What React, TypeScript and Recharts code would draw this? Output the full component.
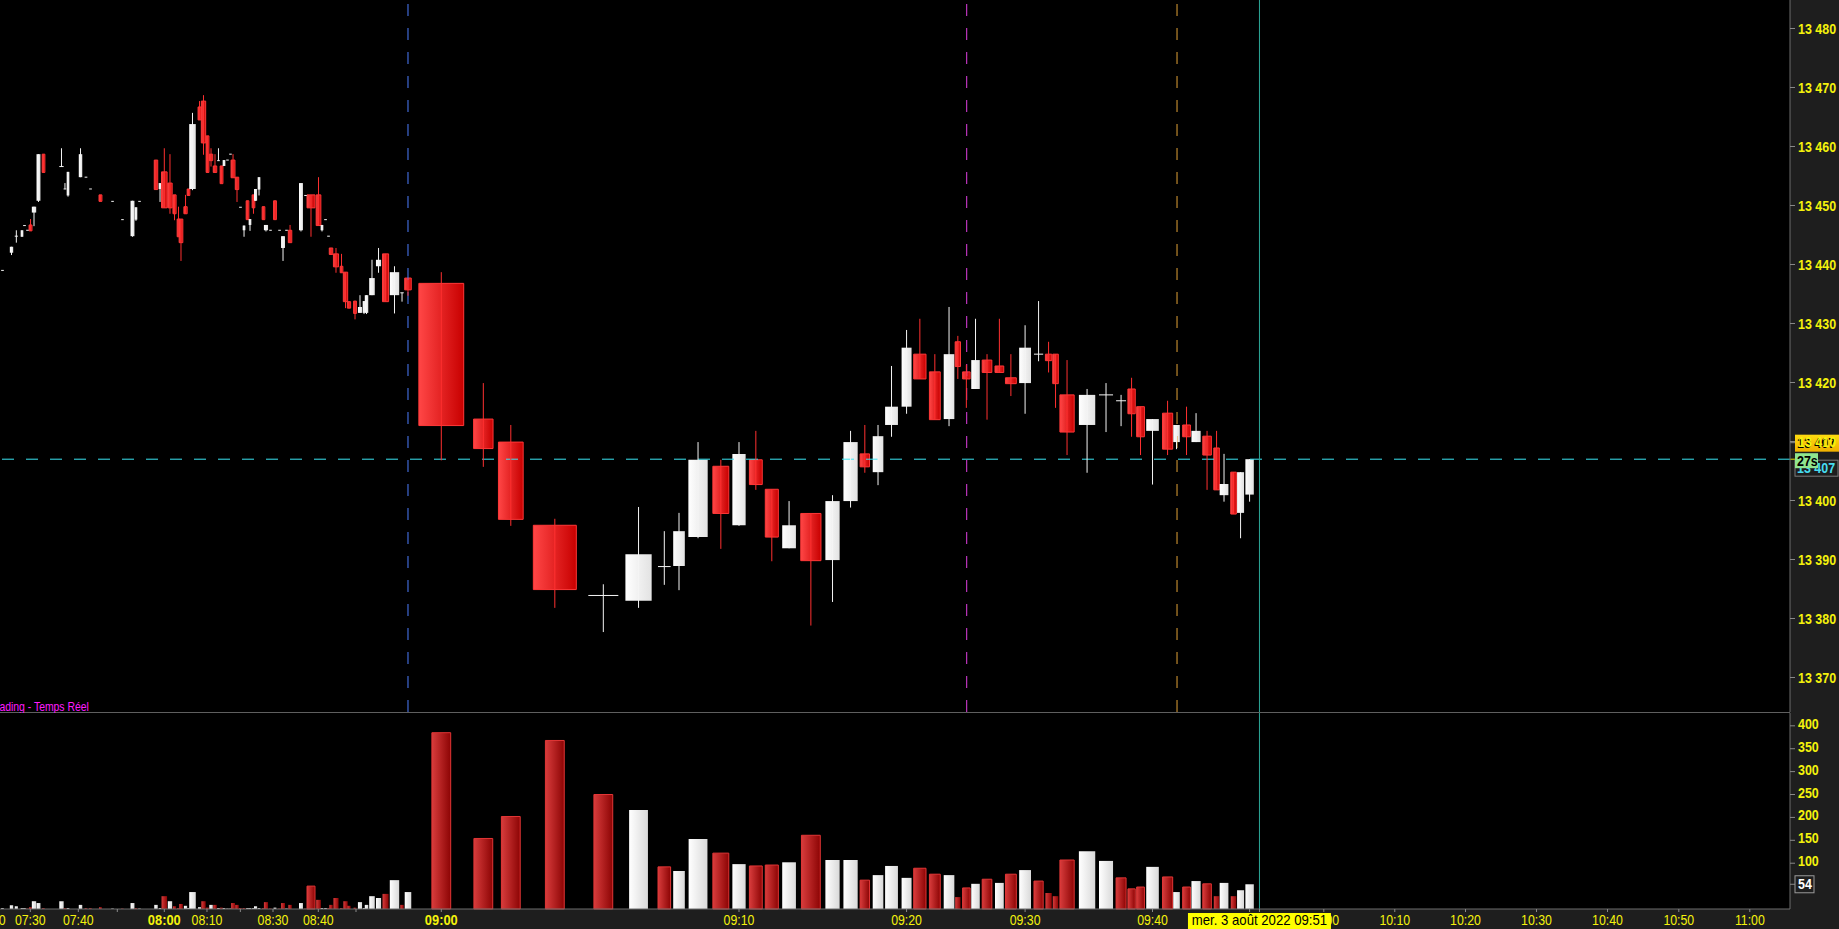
import React from 'react';
import {
  ComposedChart,
  XAxis,
  YAxis,
  CartesianGrid,
  ReferenceLine,
  ReferenceArea,
} from 'recharts';

// position of each candle on the volume-weighted time axis (1 unit = 1 minute in the future zone)
const POS = [
  0.35, 1.62, 2.3, 3.1, 3.45, 3.87, 4.3, 4.79, 5.42, 6.13,
  8.66, 9.15, 9.58, 11.34, 12.11, 12.75, 14.15, 15.85, 17.25, 18.66,
  19.15, 19.65, 21.97, 22.54, 23.14, 23.94, 24.58, 25.14, 25.49, 26.13,
  26.55, 27.11, 28.1, 28.66, 29.23, 29.72, 30.28, 30.77, 31.2, 31.55,
  32.04, 32.46, 32.82, 33.38, 33.87, 34.37, 34.86, 35.21, 35.7, 35.99,
  36.48, 37.11, 37.46, 38.1, 38.73, 39.37, 39.86, 40.35, 40.85, 42.39,
  43.03, 43.8, 44.86, 45.35, 45.85, 46.27, 46.62, 47.32, 48.1, 48.66,
  49.15, 50.0, 50.7, 51.27, 51.62, 52.39, 53.31, 54.3, 55.56, 56.62,
  57.46,
  62.15, 68.07, 71.94, 78.14, 84.97, 89.93, 93.56, 95.63, 98.31, 101.52,
  104.08, 106.45, 108.7, 111.13, 114.2, 117.25, 119.79, 121.8, 123.66, 125.56,
  127.68, 129.55, 131.66, 133.66, 134.9, 136.1, 137.39, 139.01, 140.75, 142.37,
  144.37, 146.27, 147.68, 148.66, 150.28, 153.1, 155.77, 157.89, 159.37, 160.63,
  162.32, 164.44, 165.7, 167.11, 168.45, 170.0, 171.34, 172.39, 173.73, 174.72,
  175.99,
];

const OPEN = [
  13439, 13442, 13444.8, 13444.7, 13446.6, 13445.8, 13446.7, 13448.8, 13450.8, 13458.7,
  13456.6, 13452.8, 13451.7, 13454.8, 13454.8, 13452.8, 13451.8, 13450.7, 13447.6, 13444.8,
  13447.6, 13450.7, 13457.7, 13452.8, 13455.7, 13453.8, 13451.8, 13447.7, 13447.7, 13449.8,
  13452.8, 13452.8, 13466.7, 13467.7, 13461.8, 13458.7, 13456.7, 13457.6, 13456.7, 13456.7,
  13457.7, 13458.7, 13457.7, 13454.8, 13449.7, 13445.8, 13450.8, 13446.7, 13451.8, 13450.8,
  13452.7, 13449.8, 13445.8, 13445.8, 13450.8, 13445.8, 13442.8, 13445.8, 13445.8, 13445.8,
  13451.7, 13451.8, 13451.8, 13445.8, 13447.6, 13444.8, 13442.8, 13441.8, 13439.7, 13438.7,
  13433.7, 13433.8, 13431.8, 13431.8, 13431.8, 13434.8, 13439.7, 13441.8, 13434.8, 13435.2,
  13437.7,
  13436.8, 13413.8, 13409.9, 13395.8, 13383.9, 13383.0, 13388.8, 13388.9, 13393.8, 13405.8,
  13395.8, 13406.9, 13401.9, 13391.9, 13397.8, 13389.9, 13399.9, 13407.9, 13404.8, 13412.8,
  13415.9, 13424.8, 13421.8, 13413.8, 13426.9, 13421.8, 13418.9, 13423.8, 13422.8, 13420.8,
  13419.9, 13424.8, 13424.8, 13424.8, 13417.9, 13412.8, 13417.9, 13416.9, 13418.9, 13415.9,
  13411.8, 13414.8, 13409.9, 13412.8, 13409.9, 13410.9, 13408.9, 13400.9, 13404.8, 13397.9,
  13401.0,
];

const HIGH = [
  13439, 13443, 13445.8, 13445.8, 13446.6, 13445.8, 13447.7, 13449.8, 13458.7, 13458.7,
  13459.7, 13453.8, 13455.7, 13459.7, 13454.8, 13452.8, 13451.8, 13450.7, 13447.6, 13450.8,
  13449.7, 13450.7, 13457.7, 13453.8, 13459.7, 13458.7, 13451.8, 13449.8, 13447.7, 13451.8,
  13452.8, 13465.7, 13467.7, 13468.7, 13461.8, 13459.7, 13458.7, 13459.7, 13456.7, 13457.7,
  13457.7, 13458.7, 13458.7, 13454.8, 13449.7, 13446.6, 13450.8, 13447.7, 13451.8, 13452.8,
  13454.8, 13449.8, 13446.7, 13445.8, 13450.8, 13445.8, 13444.8, 13445.8, 13446.7, 13453.8,
  13451.7, 13451.8, 13454.8, 13446.7, 13447.6, 13444.8, 13442.8, 13442.8, 13441.8, 13438.7,
  13433.7, 13433.8, 13434.8, 13433.8, 13434.8, 13440.8, 13442.8, 13441.8, 13439.7, 13435.2,
  13437.7,
  13438.7, 13419.9, 13412.8, 13396.9, 13385.8, 13398.9, 13394.8, 13397.9, 13409.9, 13406.9,
  13409.9, 13411.8, 13401.9, 13399.9, 13397.8, 13400.9, 13411.8, 13412.8, 13412.8, 13422.8,
  13428.9, 13430.8, 13424.8, 13432.8, 13427.9, 13423.0, 13430.8, 13424.8, 13430.8, 13424.8,
  13429.7, 13433.8, 13426.9, 13424.8, 13423.8, 13418.9, 13419.9, 13417.9, 13420.8, 13415.9,
  13413.8, 13416.9, 13412.8, 13415.9, 13414.8, 13411.8, 13411.8, 13407.9, 13404.8, 13404.8,
  13407.0,
];

const LOW = [
  13439, 13441.6, 13443.7, 13444.7, 13446.6, 13445.8, 13445.7, 13446.5, 13450.6, 13455.6,
  13456.6, 13452.8, 13451.5, 13454.8, 13454.8, 13452.8, 13450.7, 13450.7, 13447.6, 13444.7,
  13447.4, 13450.7, 13452.7, 13450.6, 13449.6, 13448.6, 13447.5, 13444.7, 13440.6, 13448.6,
  13451.7, 13452.6, 13464.5, 13458.6, 13455.6, 13456.6, 13455.6, 13457.6, 13453.7, 13456.7,
  13457.7, 13458.7, 13454.7, 13450.6, 13449.7, 13444.7, 13447.6, 13445.7, 13448.6, 13450.8,
  13451.7, 13447.6, 13445.6, 13445.8, 13447.6, 13445.8, 13440.6, 13445.8, 13443.7, 13445.6,
  13451.7, 13444.7, 13446.6, 13445.6, 13447.6, 13444.8, 13441.7, 13438.6, 13438.6, 13432.6,
  13432.6, 13430.7, 13431.8, 13431.6, 13431.6, 13434.8, 13438.6, 13433.7, 13431.7, 13433.7,
  13434.7,
  13406.8, 13405.7, 13395.7, 13381.8, 13377.7, 13381.8, 13385.7, 13384.8, 13393.6, 13391.8,
  13395.7, 13401.8, 13389.7, 13391.9, 13378.8, 13382.8, 13398.8, 13404.7, 13402.6, 13410.8,
  13414.7, 13420.6, 13413.7, 13412.6, 13420.6, 13415.7, 13418.9, 13413.7, 13421.7, 13417.7,
  13414.7, 13423.6, 13421.7, 13415.7, 13407.7, 13404.7, 13411.6, 13412.6, 13410.8, 13407.7,
  13402.7, 13407.7, 13408.7, 13407.7, 13409.9, 13401.8, 13401.8, 13399.8, 13397.7, 13393.6,
  13399.8,
];

const CLOSE = [
  13439, 13443, 13444.8, 13445.8, 13446.6, 13445.8, 13445.7, 13449.8, 13458.7, 13455.6,
  13456.6, 13452.8, 13455.7, 13458.7, 13454.8, 13452.8, 13450.7, 13450.7, 13447.6, 13450.8,
  13449.7, 13450.7, 13452.7, 13453.8, 13449.6, 13449.6, 13448.6, 13444.7, 13443.7, 13448.6,
  13451.7, 13463.8, 13464.5, 13460.6, 13455.6, 13457.6, 13455.6, 13457.6, 13453.7, 13457.7,
  13457.7, 13458.7, 13454.7, 13452.7, 13449.7, 13446.6, 13447.6, 13447.7, 13449.6, 13452.8,
  13454.8, 13447.6, 13446.7, 13445.8, 13447.6, 13445.8, 13444.8, 13445.8, 13443.7, 13453.8,
  13451.7, 13449.6, 13446.6, 13446.7, 13447.6, 13444.8, 13441.7, 13439.6, 13438.6, 13433.7,
  13432.6, 13431.7, 13432.8, 13433.8, 13434.8, 13437.7, 13440.8, 13433.7, 13438.7, 13435.2,
  13435.7,
  13412.7, 13408.8, 13396.8, 13384.9, 13383.9, 13390.9, 13388.8, 13394.8, 13406.9, 13397.8,
  13407.9, 13402.7, 13393.8, 13395.8, 13389.8, 13399.9, 13409.9, 13405.7, 13410.9, 13415.9,
  13425.9, 13420.6, 13413.7, 13424.8, 13422.7, 13420.6, 13423.8, 13421.7, 13421.7, 13419.8,
  13425.9, 13424.8, 13423.7, 13419.8, 13411.6, 13417.9, 13417.9, 13416.9, 13414.7, 13410.8,
  13413.8, 13408.7, 13412.8, 13410.8, 13411.8, 13407.7, 13401.8, 13402.8, 13397.7, 13404.8,
  13407.0,
];

const VOLUME = [
  2, 8, 6, 2, 2, 1, 4, 17, 13, 2,
  17, 2, 2, 9, 2, 2, 4, 1, 1, 13,
  2, 1, 9, 2, 28, 17, 6, 2, 11, 7,
  2, 37, 4, 17, 3, 9, 9, 2, 3, 2,
  1, 1, 13, 9, 2, 2, 2, 2, 2, 6,
  2, 2, 15, 1, 3, 1, 13, 1, 9, 13,
  1, 50, 20, 2, 2, 2, 9, 24, 2, 17,
  7, 3, 15, 2, 9, 28, 24, 33, 63, 9,
  37,
  385, 154, 202, 368, 250, 216, 92, 83, 153, 122,
  98, 94, 96, 102, 161, 107, 107, 63, 74, 94,
  68, 89, 76, 74, 26, 46, 55, 65, 57, 76,
  85, 61, 35, 28, 107, 126, 105, 68, 44, 48,
  92, 70, 37, 48, 61, 55, 28, 57, 28, 41,
  54,
];

const PRICE_TICKS = [13370, 13380, 13390, 13400, 13410, 13420, 13430, 13440, 13450, 13460, 13470, 13480];
const VOLUME_TICKS = [100, 150, 200, 250, 300, 350, 400];

const TIME_LABELS = [
  '07:20', '07:30', '07:40', '07:50', '08:00', '08:10', '08:20', '08:30', '08:40', '08:50',
  '09:00', '09:10', '09:20', '09:30', '09:40', '09:50', '10:00', '10:10', '10:20', '10:30',
  '10:40', '10:50', '11:00',
];
const TIME_POS = [
  -1.38, 4.27, 11.03, 16.52, 23.14, 29.15, 33.85, 38.45, 44.83, 50.14,
  62.15, 104.08, 127.68, 144.37, 162.32, 175.99, 186.44, 196.44, 206.4, 216.4,
  226.4, 236.44, 246.44,
];
const HIDDEN_TIMES = ['07:50', '08:20', '08:50', '09:50'];
const BOLD_TIMES = ['08:00', '09:00'];

const SESSION_POS = [57.46, 136.15, 165.77];
const SESSION_COLORS = ['#4d7dff', '#e33fe3', '#e2a236'];

const NOW_POS = 177.38;
const NOW_LABEL = 'mer. 3 août 2022 09:51';
const LAST_PRICE = 13407;
const LAST_VOLUME = 54;
const TIMER = '27s';

const X_DOMAIN: [number, number] = [0, 252.1];
const PRICE_DOMAIN: [number, number] = [13364.15, 13484.83];
const VOLUME_DOMAIN: [number, number] = [0, 428];

const FONT = '"Liberation Sans", Arial, sans-serif';
const YELLOW = '#f4f20c';
const PANEL = '#1e1e1e';
const AXIS = '#6c6c6c';

const candles = POS.map((pos, i) => ({
  pos,
  open: OPEN[i],
  high: HIGH[i],
  low: LOW[i],
  close: CLOSE[i],
  volume: VOLUME[i],
  width: 0.35 + 0.0155 * VOLUME[i],
  volUp: i === 0 ? CLOSE[i] >= OPEN[i] : CLOSE[i] >= CLOSE[i - 1],
}));

const fmtPrice = (v: number) =>
  `${Math.floor(v / 1000)} ${String(Math.round(v) % 1000).padStart(3, '0')}`;

// narrow-looking text: regular font squeezed horizontally
function Narrow({ x, y, sx, children, ...rest }: any) {
  return (
    <text transform={`translate(${x} ${y}) scale(${sx} 1)`} x={0} y={0} fontFamily={FONT} {...rest}>
      {children}
    </text>
  );
}

function PriceTick(props: any) {
  const { x, y, payload } = props;
  return (
    <Narrow x={x + 1} y={y + 5.5} sx={0.89} fill={YELLOW} fontSize={14} fontWeight={700}>
      {fmtPrice(payload.value)}
    </Narrow>
  );
}

function VolumeTick(props: any) {
  const { x, y, payload } = props;
  if (payload.value === LAST_VOLUME) {
    return (
      <g>
        <rect x={x - 2} y={y - 8.5} width={19} height={17} fill={PANEL} stroke="#9a9a9a" />
        <Narrow x={x + 1} y={y + 5} sx={0.89} fill="#ffffff" fontSize={14} fontWeight={700}>
          {payload.value}
        </Narrow>
      </g>
    );
  }
  return (
    <Narrow x={x + 1} y={y + 3} sx={0.89} fill={YELLOW} fontSize={14} fontWeight={700}>
      {payload.value}
    </Narrow>
  );
}

function TimeTick(props: any) {
  const { x, y, payload } = props;
  if (payload.value === NOW_POS) {
    return (
      <g>
        <rect x={x - 71.5} y={y + 1} width={143} height={16} fill="#ffff00" />
        <Narrow x={x} y={y + 13} sx={0.94} textAnchor="middle" fill="#000" fontSize={14}>
          {NOW_LABEL}
        </Narrow>
      </g>
    );
  }
  const label = TIME_LABELS[TIME_POS.indexOf(payload.value)];
  if (!label || HIDDEN_TIMES.includes(label)) return null;
  const bold = BOLD_TIMES.includes(label);
  return (
    <Narrow
      x={x}
      y={y + 13}
      sx={bold ? 0.92 : 0.88}
      textAnchor="middle"
      fill={YELLOW}
      fontSize={14}
      fontWeight={bold ? 700 : 400}
    >
      {label}
    </Narrow>
  );
}

function LastPriceTag(props: any) {
  const vb = props.viewBox || { x: 0, y: 0, width: 1790 };
  const x = vb.x + vb.width;
  const y = vb.y;
  const txt = fmtPrice(LAST_PRICE);
  return (
    <g>
      <line x1={x} x2={x + 5} y1={y} y2={y} stroke="#e8e800" />
      <line x1={x} x2={x + 5} y1={y - 16.5} y2={y - 16.5} stroke="#8a8a8a" />
      <rect x={x + 5} y={y + 1} width={43} height={16} fill={PANEL} stroke="#7c7c7c" />
      <Narrow x={x + 7} y={y + 14} sx={0.89} fill="#46dcf0" fontSize={14} fontWeight={700}>{txt}</Narrow>
      <rect x={x + 5} y={y - 24.5} width={44} height={17} fill="url(#tagYellow)" />
      <Narrow x={x + 7} y={y - 11} sx={0.89} fill="#000" fontSize={14} fontWeight={700}>{txt}</Narrow>
      <rect x={x + 5} y={y - 6} width={23} height={15} fill="#8fe68f" />
      <Narrow x={x + 7} y={y + 6.5} sx={0.89} fill="#000" fontSize={14} fontWeight={700}>{TIMER}</Narrow>
    </g>
  );
}

const priceMarks = candles.flatMap((c, i) => {
  const up = c.close >= c.open;
  const col = up ? '#f4f4f4' : '#ff3030';
  const half = c.width / 2;
  const out: React.ReactElement[] = [];
  if (c.high - c.low > 0.05) {
    out.push(
      <ReferenceLine
        key={`w${i}`}
        segment={[{ x: c.pos, y: c.low }, { x: c.pos, y: c.high }]}
        stroke={col}
        strokeWidth={1}
      />,
    );
  }
  if (Math.abs(c.close - c.open) < 0.3) {
    out.push(
      <ReferenceLine
        key={`d${i}`}
        segment={[{ x: c.pos - half, y: c.close }, { x: c.pos + half, y: c.close }]}
        stroke={col}
        strokeWidth={1}
      />,
    );
  } else {
    out.push(
      <ReferenceArea
        key={`b${i}`}
        x1={c.pos - half}
        x2={c.pos + half}
        y1={Math.min(c.open, c.close)}
        y2={Math.max(c.open, c.close)}
        fill={up ? 'url(#bodyUp)' : 'url(#bodyDown)'}
        fillOpacity={1}
        stroke={up ? 'none' : '#ff3838'}
        strokeWidth={1}
      />,
    );
  }
  return out;
});

const volumeMarks = candles.map((c, i) => {
  const w = Math.min(2.65, c.width);
  return (
    <ReferenceArea
      key={`v${i}`}
      x1={c.pos - w / 2}
      x2={c.pos + w / 2}
      y1={0}
      y2={c.volume}
      fill={c.volUp ? 'url(#volUp)' : 'url(#volDown)'}
      fillOpacity={1}
      stroke={!c.volUp && w > 1 ? '#e23636' : 'none'}
      strokeWidth={1}
    />
  );
});

export default function App() {
  return (
    <div
      style={{
        position: 'absolute',
        left: 0,
        top: 0,
        width: 1839,
        height: 929,
        background: PANEL,
        overflow: 'hidden',
        fontFamily: FONT,
      }}
    >
      <div style={{ position: 'absolute', left: 0, top: 0 }}>
        <ComposedChart width={1839} height={712} data={candles} margin={{ top: 0, right: 0, bottom: 0, left: 0 }}>
          <defs>
            <linearGradient id="bodyDown" x1="0" y1="0" x2="1" y2="0">
              <stop offset="0%" stopColor="#ff4646" />
              <stop offset="100%" stopColor="#c80000" />
            </linearGradient>
            <linearGradient id="bodyUp" x1="0" y1="0" x2="1" y2="0">
              <stop offset="0%" stopColor="#ffffff" />
              <stop offset="100%" stopColor="#e2e2e2" />
            </linearGradient>
            <linearGradient id="tagYellow" x1="0" y1="0" x2="0" y2="1">
              <stop offset="0%" stopColor="#ffdc10" />
              <stop offset="100%" stopColor="#f0b000" />
            </linearGradient>
          </defs>
          <CartesianGrid horizontal={false} vertical={false} fill="#000" />
          <XAxis type="number" dataKey="pos" domain={X_DOMAIN} allowDataOverflow hide />
          <YAxis
            orientation="right"
            type="number"
            domain={PRICE_DOMAIN}
            allowDataOverflow
            ticks={PRICE_TICKS}
            interval={0}
            width={49}
            tickSize={5}
            tickMargin={2}
            tick={<PriceTick />}
            tickLine={{ stroke: '#8a8a8a' }}
            axisLine={{ stroke: AXIS }}
          />
          {SESSION_POS.map((p, i) => (
            <ReferenceLine key={`s${i}`} x={p} stroke={SESSION_COLORS[i]} strokeDasharray="12 12" />
          ))}
          <ReferenceLine
            y={LAST_PRICE}
            stroke="#3ae6f4"
            strokeDasharray="12 12"
            label={<LastPriceTag />}
          />
          {priceMarks}
          <ReferenceLine x={NOW_POS} stroke="#2ca898" />
        </ComposedChart>
      </div>
      <div style={{ position: 'absolute', left: 0, top: 712, width: 1790, height: 1, background: '#5f5f5f' }} />
      <div
        style={{
          position: 'absolute',
          left: -10,
          top: 700,
          fontSize: 13,
          lineHeight: '13px',
          color: '#ff1cff',
          whiteSpace: 'nowrap',
          fontFamily: FONT,
          transform: 'scaleX(0.8)',
          transformOrigin: '0 0',
        }}
      >
        Trading - Temps Réel
      </div>
      <div style={{ position: 'absolute', left: 0, top: 713 }}>
        <ComposedChart width={1839} height={216} data={candles} margin={{ top: 0, right: 0, bottom: 0, left: 0 }}>
          <defs>
            <linearGradient id="volDown" x1="0" y1="0" x2="1" y2="0">
              <stop offset="0%" stopColor="#d83c3c" />
              <stop offset="100%" stopColor="#8c0404" />
            </linearGradient>
            <linearGradient id="volUp" x1="0" y1="0" x2="1" y2="0">
              <stop offset="0%" stopColor="#ffffff" />
              <stop offset="100%" stopColor="#d9d9d9" />
            </linearGradient>
          </defs>
          <CartesianGrid horizontal={false} vertical={false} fill="#000" />
          <XAxis
            type="number"
            dataKey="pos"
            domain={X_DOMAIN}
            allowDataOverflow
            ticks={[...TIME_POS, NOW_POS]}
            interval={0}
            height={20}
            tickSize={3}
            tickMargin={0}
            tick={<TimeTick />}
            tickLine={{ stroke: '#8a8a8a' }}
            axisLine={{ stroke: AXIS }}
          />
          <YAxis
            orientation="right"
            type="number"
            domain={VOLUME_DOMAIN}
            allowDataOverflow
            ticks={[...VOLUME_TICKS, LAST_VOLUME]}
            interval={0}
            width={49}
            tickSize={5}
            tickMargin={2}
            tick={<VolumeTick />}
            tickLine={{ stroke: '#8a8a8a' }}
            axisLine={{ stroke: AXIS }}
          />
          {volumeMarks}
          <ReferenceLine x={NOW_POS} stroke="#2ca898" />
        </ComposedChart>
      </div>
    </div>
  );
}
